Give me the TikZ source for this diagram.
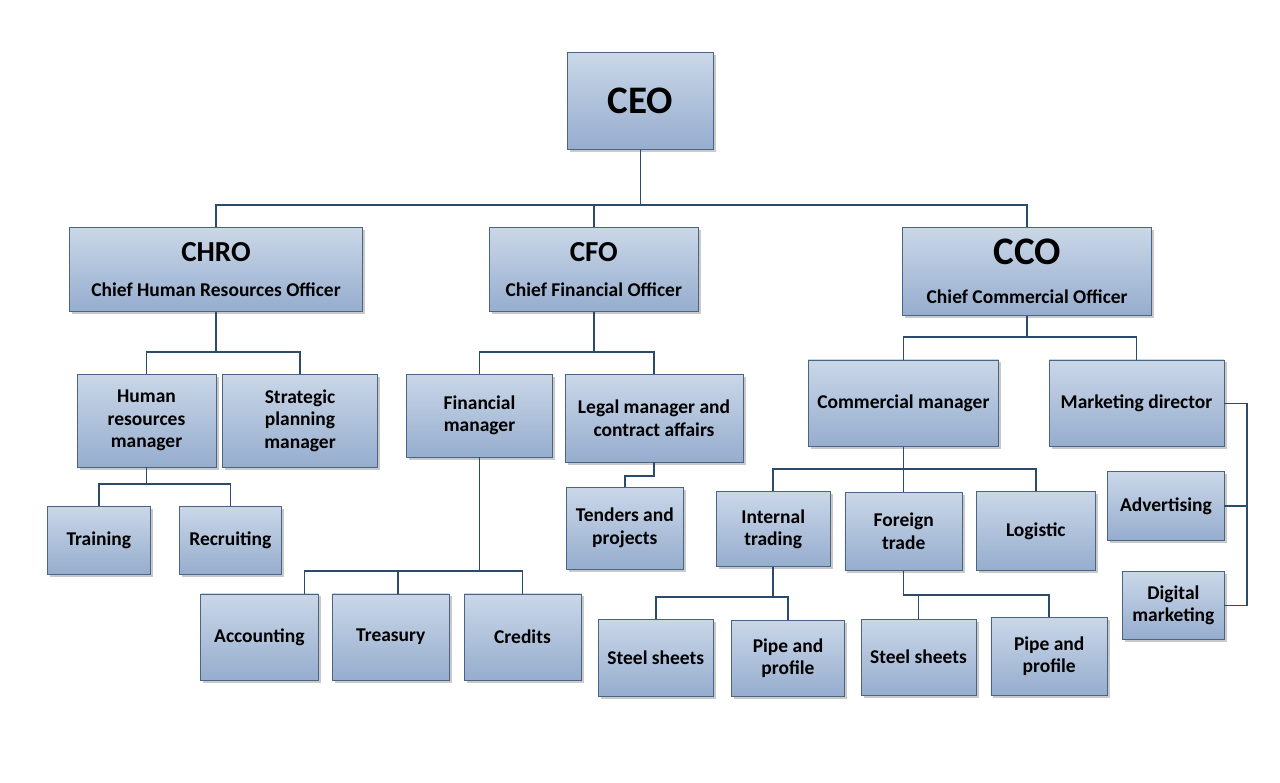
\documentclass[tikz,border=0pt]{standalone}
\usepackage{fontspec}
\setmainfont{Carlito}
\usetikzlibrary{shadows}
\definecolor{boxtop}{HTML}{CAD7E8}
\definecolor{boxbot}{HTML}{96ADCE}
\definecolor{boxline}{HTML}{4A6584}
\definecolor{wire}{HTML}{2B4A6C}
\newcommand\bigtxt{\fontsize{29}{31}\selectfont}
\tikzset{
  box/.style={draw=boxline, line width=0.8pt, top color=boxtop, bottom color=boxbot,
    align=center, inner sep=0pt, font=\bfseries\fontsize{19.5}{22.5}\selectfont,
    drop shadow={shadow xshift=2.5pt, shadow yshift=-2.5pt, opacity=.35, fill=black!60}},
  sz/.style 2 args={minimum width=#1pt, minimum height=#2pt},
  link/.style={draw=wire, line width=1.5pt}
}
\begin{document}
\begin{tikzpicture}[x=1pt, y=-1pt]
    \fill[white] (0,0) rectangle (1280,782);
    \useasboundingbox (0,0) rectangle (1280,782);

    \node[box, sz={146.5}{96.6}, font=\bfseries\fontsize{39}{41}\selectfont] (ceo) at (640.25,101) {CEO};

    \node[box, sz={293}{84.4}] (chro) at (216,269.5) {{\bigtxt CHRO}\\[12pt]Chief Human Resources Officer};
    \node[box, sz={208.4}{84.4}] (cfo) at (593.8,269.5) {{\bigtxt CFO}\\[12pt]Chief Financial Officer};
    \node[box, sz={249}{88.7}] (cco) at (1027.2,271.4) {{\fontsize{39}{41}\selectfont CCO}\\[17pt]Chief Commercial Officer};

    \node[box, sz={139}{93}] (hrm) at (146.5,420.5) {Human\\resources\\manager};
    \node[box, sz={154.5}{93}] (spm) at (300,420.5) {Strategic\\planning\\manager};
    \node[box, sz={102.5}{68}] (trn) at (98.8,540) {Training};
    \node[box, sz={102.6}{68}] (rec) at (230.3,540) {Recruiting};

    \node[box, sz={146}{83}] (finm) at (479.5,415.5) {Financial\\manager};
    \node[box, sz={178}{88}] (legal) at (654,418) {Legal manager and\\contract affairs};
    \node[box, sz={117.6}{82}] (tend) at (624.8,528) {Tenders and\\projects};
    \node[box, sz={117.2}{86.5}] (acc) at (259.4,637.2) {Accounting};
    \node[box, sz={116.4}{86.5}] (tre) at (390.8,637.2) {Treasury};
    \node[box, sz={117}{86.5}] (cred) at (522.5,637.2) {Credits};

    \node[box, sz={190.7}{86.7}] (comm) at (903.4,403.3) {Commercial manager};
    \node[box, sz={175}{86.7}] (mkt) at (1136.5,403.3) {Marketing director};
    \node[box, sz={116.3}{68.3}] (adv) at (1165.9,505.9) {Advertising};
    \node[box, sz={101.3}{67.3}] (dig) at (1173.4,605.4) {Digital\\marketing};

    \node[box, sz={113.6}{75}] (intr) at (773.2,529.2) {Internal\\trading};
    \node[box, sz={117.5}{78.7}] (forg) at (903.7,531.4) {Foreign\\trade};
    \node[box, sz={119.5}{79}] (logi) at (1035.8,531.2) {Logistic};
    \node[box, sz={115.6}{77}] (st_1) at (655.8,657.5) {Steel sheets};
    \node[box, sz={113.2}{76}] (pp_1) at (788,658) {Pipe and\\profile};
    \node[box, sz={115}{76}] (st_2) at (918.5,657) {Steel sheets};
    \node[box, sz={116.5}{78}] (pp_2) at (1049.2,656) {Pipe and\\profile};

    \coordinate (b_0) at (640.25,205);
    \coordinate (b_1) at (216,352);
    \coordinate (b_2) at (146.5,484);
    \coordinate (b_3) at (593.8,352);
    \coordinate (b_4) at (654,476);
    \coordinate (b_5) at (479.5,571);
    \coordinate (b_6) at (1027.2,337);
    \coordinate (b_7) at (1247,403.3);
    \coordinate (b_8) at (903.4,469);
    \coordinate (b_9) at (773.2,597);
    \coordinate (b_10) at (903.7,595);

    \draw[link] (ceo.south) -- (b_0);
    \draw[link] (chro.north) |- (b_0) -| (cco.north);
    \draw[link] (cfo.north) -- (cfo.north |- b_0);

    \draw[link] (chro.south) -- (b_1);
    \draw[link] (hrm.north) |- (b_1) -| (spm.north);
    \draw[link] (hrm.south) -- (b_2);
    \draw[link] (trn.north) |- (b_2) -| (rec.north);

    \draw[link] (cfo.south) -- (b_3);
    \draw[link] (finm.north) |- (b_3) -| (legal.north);
    \draw[link] (legal.south) -- (b_4) -| (tend.north);
    \draw[link] (finm.south) -- (b_5);
    \draw[link] ([xshift=45pt]acc.north) |- (b_5) -| (cred.north);
    \draw[link] ([xshift=7pt]tre.north) -- ([xshift=7pt]tre.north |- b_5);

    \draw[link] (cco.south) -- (b_6);
    \draw[link] (comm.north) |- (b_6) -| (mkt.north);
    \draw[link] (mkt.east) -- (b_7) |- (dig.east);
    \draw[link] (adv.east) -- (adv.east -| b_7);

    \draw[link] (comm.south) -- (b_8);
    \draw[link] (intr.north) |- (b_8) -| (logi.north);
    \draw[link] (forg.north) -- (forg.north |- b_8);
    \draw[link] (intr.south) -- (b_9);
    \draw[link] (st_1.north) |- (b_9) -| (pp_1.north);
    \draw[link] (forg.south) -- (b_10) -| (pp_2.north);
    \draw[link] (st_2.north) -- (st_2.north |- b_10);
\end{tikzpicture}
\end{document}
